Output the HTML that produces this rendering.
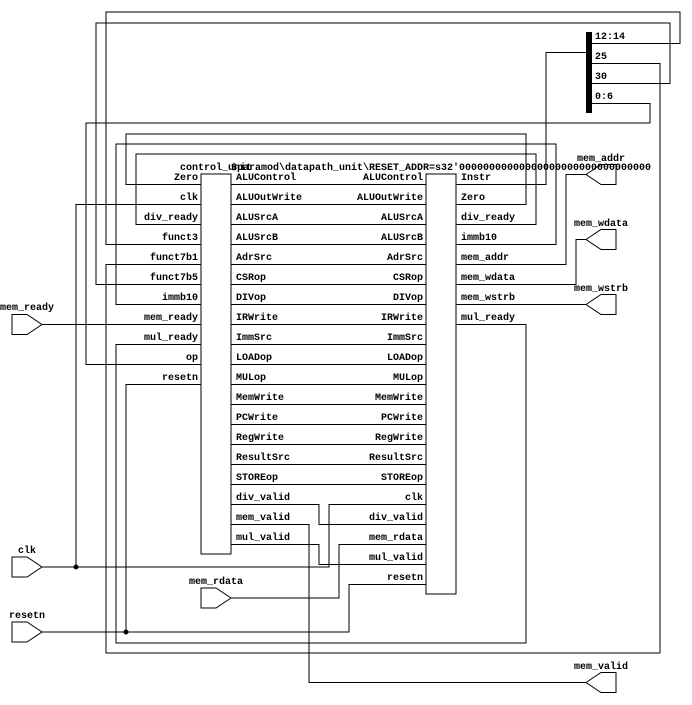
<!DOCTYPE html>
<html><head><meta charset="utf-8"><style>
html,body{margin:0;padding:0;background:#fff}
svg{display:block}
text{font-family:"Liberation Mono",monospace;font-size:10px;font-weight:bold;fill:#000}
.e{text-anchor:end}.m{text-anchor:middle}
path,polygon,polyline{fill:none;stroke:#000;stroke-width:1}
</style></head><body>
<svg width="692" height="705" viewBox="0 0 692 705" xmlns="http://www.w3.org/2000/svg">
<rect width="692" height="705" fill="#fff" style="stroke:none"/>
<!-- blocks -->
<path d="M201 174H231V554H201Z"/>
<path d="M426 174H456V594H426Z"/>
<rect x="586" y="32" width="6" height="81" style="fill:#000;stroke:none"/>
<!-- ports -->
<polygon points="12,314.5 27,314.5 42,324.5 27,334.5 12,334.5"/>
<polygon points="12,557 27,557 42,567 27,577 12,577"/>
<polygon points="12,622 27,622 42,632 27,642 12,642"/>
<polygon points="201,588 216,588 231,598 216,608 201,608"/>
<polygon points="586,174.5 601,164.5 616,164.5 616,184.5 601,184.5"/>
<polygon points="586,239.5 601,229.5 616,229.5 616,249.5 601,249.5"/>
<polygon points="586,304.5 601,294.5 616,294.5 616,314.5 601,314.5"/>
<polygon points="586,682.5 601,672.5 616,672.5 616,692.5 601,692.5"/>
<!-- control -> datapath straight lines -->
<path d="M231 184.5H426M231 204.5H426M231 224.5H426M231 244.5H426M231 264.5H426M231 284.5H426M231 304.5H426M231 324.5H426M231 344.5H426M231 364.5H426M231 384.5H426M231 404.5H426M231 424.5H426M231 444.5H426M231 464.5H426M231 484.5H426"/>
<!-- wires -->
<path d="M456 184.5H546V52.500H586"/>
<path d="M592 43.500H680V12H106V244.500H201"/>
<path d="M592 63.500H660V653H106V264.500H201"/>
<path d="M592 83.500H670V23H96V284.500H201"/>
<path d="M592 103.500H650V123H86V364.500H201"/>
<path d="M456 204.500H526V134H126V184.500H201"/>
<path d="M456 224.500H536V154H136V224.500H201"/>
<path d="M456 244.500H556V144H116V304.500H201"/>
<path d="M456 264.500H566V174.500H586"/>
<path d="M456 284.500H576V239.500H586"/>
<path d="M456 304.500H586"/>
<path d="M456 324.500H526V643H116V344.500H201"/>
<path d="M42 324.500H201"/>
<path d="M231 504.500H319V524.500H426"/>
<path d="M231 544.500H319V564.500H426"/>
<path d="M231 524.500H309V682.500H586"/>
<path d="M42 567H329V504.500H426"/>
<path d="M42 567H76V204.500H201"/>
<path d="M42 632H349V584.500H426"/>
<path d="M42 632H126V384.500H201"/>
<path d="M231 598H339V544.500H426"/>
<circle cx="76" cy="567" r="2.5" style="fill:#000;stroke:none"/>
<circle cx="126" cy="632" r="2.5" style="fill:#000;stroke:none"/>
<!-- titles -->
<text class="m" x="216" y="170">control_unit</text>
<text class="m" x="441" y="170">$paramod\datapath_unit\RESET_ADDR=s32'00000000000000000000000000000000</text>
<!-- control inputs -->
<text class="e" x="198" y="180">Zero</text>
<text class="e" x="198" y="200">clk</text>
<text class="e" x="198" y="220">div_ready</text>
<text class="e" x="198" y="240">funct3</text>
<text class="e" x="198" y="260">funct7b1</text>
<text class="e" x="198" y="280">funct7b5</text>
<text class="e" x="198" y="300">immb10</text>
<text class="e" x="198" y="320">mem_ready</text>
<text class="e" x="198" y="340">mul_ready</text>
<text class="e" x="198" y="360">op</text>
<text class="e" x="198" y="380">resetn</text>
<!-- control outputs -->
<text x="236" y="180">ALUControl</text>
<text x="236" y="200">ALUOutWrite</text>
<text x="236" y="220">ALUSrcA</text>
<text x="236" y="240">ALUSrcB</text>
<text x="236" y="260">AdrSrc</text>
<text x="236" y="280">CSRop</text>
<text x="236" y="300">DIVop</text>
<text x="236" y="320">IRWrite</text>
<text x="236" y="340">ImmSrc</text>
<text x="236" y="360">LOADop</text>
<text x="236" y="380">MULop</text>
<text x="236" y="400">MemWrite</text>
<text x="236" y="420">PCWrite</text>
<text x="236" y="440">RegWrite</text>
<text x="236" y="460">ResultSrc</text>
<text x="236" y="480">STOREop</text>
<text x="236" y="500">div_valid</text>
<text x="236" y="520">mem_valid</text>
<text x="236" y="540">mul_valid</text>
<!-- datapath inputs -->
<text class="e" x="423" y="180">ALUControl</text>
<text class="e" x="423" y="200">ALUOutWrite</text>
<text class="e" x="423" y="220">ALUSrcA</text>
<text class="e" x="423" y="240">ALUSrcB</text>
<text class="e" x="423" y="260">AdrSrc</text>
<text class="e" x="423" y="280">CSRop</text>
<text class="e" x="423" y="300">DIVop</text>
<text class="e" x="423" y="320">IRWrite</text>
<text class="e" x="423" y="340">ImmSrc</text>
<text class="e" x="423" y="360">LOADop</text>
<text class="e" x="423" y="380">MULop</text>
<text class="e" x="423" y="400">MemWrite</text>
<text class="e" x="423" y="420">PCWrite</text>
<text class="e" x="423" y="440">RegWrite</text>
<text class="e" x="423" y="460">ResultSrc</text>
<text class="e" x="423" y="480">STOREop</text>
<text class="e" x="423" y="500">clk</text>
<text class="e" x="423" y="520">div_valid</text>
<text class="e" x="423" y="540">mem_rdata</text>
<text class="e" x="423" y="560">mul_valid</text>
<text class="e" x="423" y="580">resetn</text>
<!-- datapath outputs -->
<text x="461" y="180">Instr</text>
<text x="461" y="200">Zero</text>
<text x="461" y="220">div_ready</text>
<text x="461" y="240">immb10</text>
<text x="461" y="260">mem_addr</text>
<text x="461" y="280">mem_wdata</text>
<text x="461" y="300">mem_wstrb</text>
<text x="461" y="320">mul_ready</text>
<!-- bar labels -->
<text x="595" y="39">12:14</text>
<text x="595" y="59">25</text>
<text x="595" y="79">30</text>
<text x="595" y="99">0:6</text>
<!-- port labels -->
<text class="m" x="27" y="310">mem_ready</text>
<text class="m" x="27" y="553">clk</text>
<text class="m" x="27" y="618">resetn</text>
<text class="m" x="216" y="584">mem_rdata</text>
<text class="m" x="601" y="161">mem_addr</text>
<text class="m" x="601" y="226">mem_wdata</text>
<text class="m" x="601" y="291">mem_wstrb</text>
<text class="m" x="601" y="669">mem_valid</text>
</svg>
</body></html>
